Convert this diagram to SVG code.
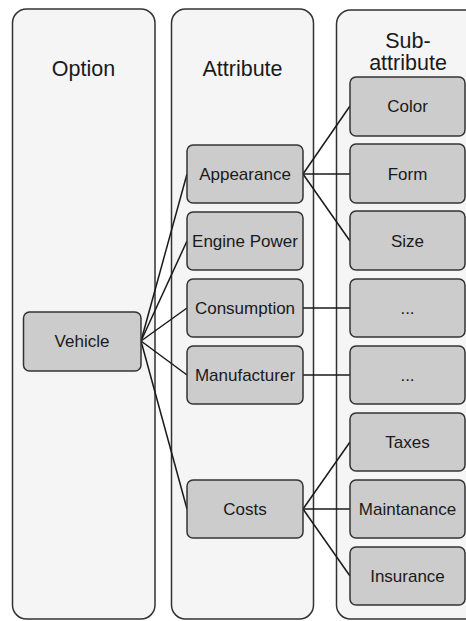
<svg xmlns="http://www.w3.org/2000/svg" width="466" height="621" viewBox="0 0 466 621">
  <style>
    .lane { fill: #f5f5f5; stroke: #333333; stroke-width: 1.5; }
    .box { fill: #cccccc; stroke: #333333; stroke-width: 1.5; }
    .title { font-family: "Liberation Sans", Arial, sans-serif; font-size: 21.5px; fill: #1a1a1a; text-anchor: middle; }
    .label { font-family: "Liberation Sans", Arial, sans-serif; font-size: 17px; fill: #1a1a1a; text-anchor: middle; }
    .edge { stroke: #1a1a1a; stroke-width: 1.5; fill: none; }
  </style>
  <rect width="466" height="621" fill="#ffffff"/>

  <!-- swimlanes -->
  <g id="lane-option">
    <rect class="lane" x="12.5" y="9" width="142.5" height="610" rx="14"/>
    <text class="title" x="83.5" y="76">Option</text>
  </g>
  <g id="lane-attribute">
    <rect class="lane" x="171.5" y="9" width="142" height="610" rx="14"/>
    <text class="title" x="242.5" y="76">Attribute</text>
  </g>
  <g id="lane-subattribute">
    <rect class="lane" x="336.5" y="10" width="150" height="609" rx="14"/>
    <text class="title" x="408" y="48">Sub-</text>
    <text class="title" x="408" y="70">attribute</text>
  </g>

  <!-- connectors -->
  <g id="connectors">
    <line class="edge" x1="141" y1="341" x2="187" y2="174"/>
    <line class="edge" x1="141" y1="341" x2="187" y2="241"/>
    <line class="edge" x1="141" y1="341" x2="187" y2="308"/>
    <line class="edge" x1="141" y1="341" x2="187" y2="375"/>
    <line class="edge" x1="141" y1="341" x2="187" y2="509"/>
    <line class="edge" x1="303" y1="174" x2="350" y2="106"/>
    <line class="edge" x1="303" y1="174" x2="350" y2="174"/>
    <line class="edge" x1="303" y1="174" x2="350" y2="241"/>
    <line class="edge" x1="303" y1="308" x2="350" y2="308"/>
    <line class="edge" x1="303" y1="375" x2="350" y2="375"/>
    <line class="edge" x1="303" y1="509" x2="350" y2="442"/>
    <line class="edge" x1="303" y1="509" x2="350" y2="509"/>
    <line class="edge" x1="303" y1="509" x2="350" y2="576"/>
  </g>

  <!-- option -->
  <g id="vehicle">
    <rect class="box" x="23.5" y="312" width="117.5" height="59" rx="6"/>
    <text class="label" x="82" y="347">Vehicle</text>
  </g>

  <!-- attributes -->
  <g id="appearance">
    <rect class="box" x="187" y="145" width="116" height="58" rx="6"/>
    <text class="label" x="245" y="180">Appearance</text>
  </g>
  <g id="engine-power">
    <rect class="box" x="187" y="212" width="116" height="58" rx="6"/>
    <text class="label" x="245" y="247">Engine Power</text>
  </g>
  <g id="consumption">
    <rect class="box" x="187" y="279" width="116" height="58" rx="6"/>
    <text class="label" x="245" y="314">Consumption</text>
  </g>
  <g id="manufacturer">
    <rect class="box" x="187" y="346" width="116" height="58" rx="6"/>
    <text class="label" x="245" y="381">Manufacturer</text>
  </g>
  <g id="costs">
    <rect class="box" x="187" y="480" width="116" height="58" rx="6"/>
    <text class="label" x="245" y="515">Costs</text>
  </g>

  <!-- sub-attributes -->
  <g id="color">
    <rect class="box" x="350" y="77" width="115" height="59" rx="6"/>
    <text class="label" x="407.5" y="112">Color</text>
  </g>
  <g id="form">
    <rect class="box" x="350" y="144" width="115" height="59" rx="6"/>
    <text class="label" x="407.5" y="180">Form</text>
  </g>
  <g id="size">
    <rect class="box" x="350" y="211" width="115" height="59" rx="6"/>
    <text class="label" x="407.5" y="247">Size</text>
  </g>
  <g id="consumption-more">
    <rect class="box" x="350" y="279" width="115" height="58" rx="6"/>
    <text class="label" x="407.5" y="314">...</text>
  </g>
  <g id="manufacturer-more">
    <rect class="box" x="350" y="346" width="115" height="58" rx="6"/>
    <text class="label" x="407.5" y="381">...</text>
  </g>
  <g id="taxes">
    <rect class="box" x="350" y="413" width="115" height="58" rx="6"/>
    <text class="label" x="407.5" y="448">Taxes</text>
  </g>
  <g id="maintanance">
    <rect class="box" x="350" y="480" width="115" height="58" rx="6"/>
    <text class="label" x="407.5" y="515">Maintanance</text>
  </g>
  <g id="insurance">
    <rect class="box" x="350" y="547" width="115" height="58" rx="6"/>
    <text class="label" x="407.5" y="582">Insurance</text>
  </g>
</svg>
